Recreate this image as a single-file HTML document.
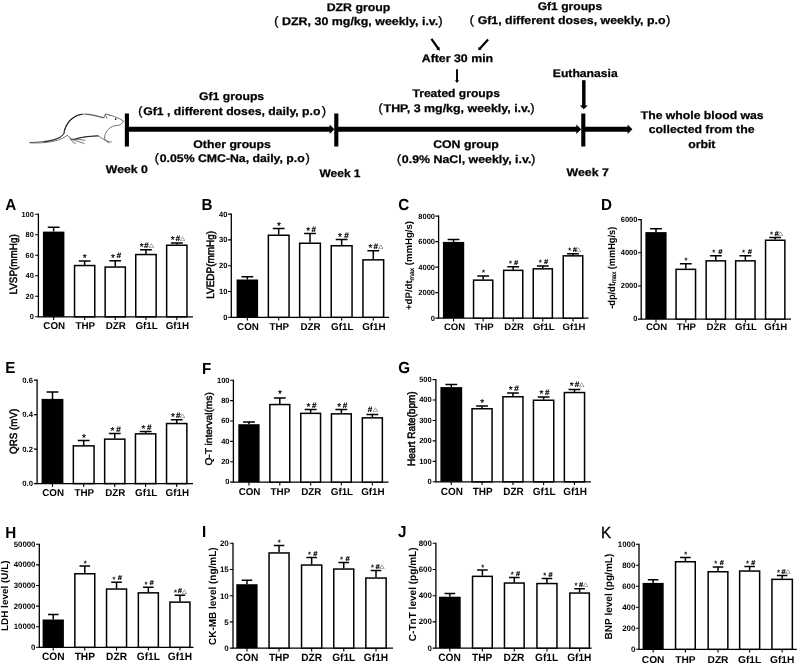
<!DOCTYPE html>
<html><head><meta charset="utf-8"><title>Figure</title>
<style>html,body{margin:0;padding:0;background:#fff}svg{display:block}text{font-family:'Liberation Sans','DejaVu Sans',sans-serif;fill:#000;text-rendering:geometricPrecision}.yl{stroke:#000;stroke-width:0.45px}.t{font-size:12px;font-weight:bold}</style>
</head><body>
<svg width="798" height="664" viewBox="0 0 798 664">
<rect width="798" height="664" fill="#fff"/>
<g font-size="11.1" font-weight="bold" stroke="#000" stroke-width="0.25">
<text transform="translate(326.67 10.8) scale(1.11 1)">DZR group</text>
<text transform="translate(282.06 25.0) scale(1.1196 1)">DZR, 30 mg/kg, weekly, i.v.</text>
<text transform="translate(537.65 10.0) scale(1.0918 1)">Gf1 groups</text>
<text transform="translate(477.64 24.3) scale(1.1136 1)">Gf1, different doses, weekly, p.o</text>
<text transform="translate(421.72 62.0) scale(1.1137 1)">After 30 min</text>
<text transform="translate(412.46 96.6) scale(1.0906 1)">Treated groups</text>
<text transform="translate(383.56 111.6) scale(1.1188 1)">THP, 3 mg/kg, weekly, i.v.</text>
<text transform="translate(552.78 76.7) scale(1.0974 1)">Euthanasia</text>
<text transform="translate(199.05 99.7) scale(1.1004 1)">Gf1 groups</text>
<text transform="translate(143.15 114.6) scale(1.1036 1)">Gf1 , different doses, daily, p.o</text>
<text transform="translate(193.35 148.0) scale(1.1032 1)">Other groups</text>
<text transform="translate(159.75 162.2) scale(1.1059 1)">0.05% CMC-Na, daily, p.o</text>
<text transform="translate(433.14 148.2) scale(1.1107 1)">CON group</text>
<text transform="translate(401.84 162.5) scale(1.1151 1)">0.9% NaCl, weekly, i.v.</text>
<text transform="translate(105.8 173.2) scale(1.1056 1)">Week 0</text>
<text transform="translate(319.5 176.5) scale(1.0781 1)">Week 1</text>
<text transform="translate(566.5 176.1) scale(1.112 1)">Week 7</text>
<text transform="translate(640.76 118.5) scale(1.1009 1)">The whole blood was</text>
<text transform="translate(648.75 133.1) scale(1.1065 1)">collected from the</text>
<text transform="translate(688.15 148.0) scale(1.1042 1)">orbit</text>
</g>
<g font-size="12" stroke="#000" stroke-width="0.35">
<text x="274.29" y="25.0">(</text>
<text x="438.56" y="25.0">)</text>
<text x="469.69" y="24.3">(</text>
<text x="666.21" y="24.3">)</text>
<text x="378.49" y="111.6">(</text>
<text x="530.41" y="111.6">)</text>
<text x="138.19" y="114.6">(</text>
<text x="322.01" y="114.6">)</text>
<text x="154.64" y="162.2">(</text>
<text x="305.71" y="162.2">)</text>
<text x="396.89" y="162.5">(</text>
<text x="531.21" y="162.5">)</text>
</g>
<g stroke="#000" fill="none">
<path d="M126.9 113.6V146.5M336.3 113.4V146.5M583.3 113.5V146.5" stroke-width="4.1"/>
<path d="M128 129.2H331M338 129.2H577.5M585 129.2H628" stroke-width="4.9"/>
<path d="M583.8 80.2V106" stroke-width="3.5"/>
<path d="M431.4 38.8L438.6 49M488.1 39.6L479.5 48.9" stroke-width="2.2"/>
<path d="M457 69.2V81" stroke-width="1.9"/>
</g>
<g fill="#000">
<path d="M334.4 129.2L329.6 124.5V133.9Z"/>
<path d="M581.2 129.2L576.4 124.5V133.9Z"/>
<path d="M632.4 129.2L627.6 124.5V133.9Z"/>
<path d="M583.8 109.3L579.8 105.4H587.8Z"/>
<path d="M457 83L454.9 80.2H459.1Z"/>
<path d="M439.8 50.7L436.2 49.3L439.5 47Z"/>
<path d="M478.2 50.3L478.6 46.8L481.6 49.6Z"/>
</g>
<g id="mouse" fill="none" stroke="#1a1a1a" stroke-width="0.6" stroke-linecap="round" stroke-linejoin="round">
<path d="M29.6 142.5C40 142.2 50 140.8 56 139C61 137.3 63.5 134.5 64.5 132.2"/>
<path d="M30.5 142.9C42 143.3 53 142 59.5 139.6C63.5 138 66 136.3 67.3 135.2"/>
<path d="M44 141.9C50 141.2 56 139.6 60 137.4C62.6 135.8 63.8 134 64.4 132.4" stroke-width="0.95"/>
<path d="M63.8 132.8C65 127 68 120.5 75 116.5C81 113.3 88 113.8 93.5 115C98 116 102 117.2 104 117.6"/>
<path d="M64.3 131C65.8 125.6 69 120 75.2 116.5C77.5 115.3 79.8 114.6 82 114.3" stroke-width="1.15"/>
<path d="M86 114.4C92 114.9 98 116.6 103 118" stroke-width="0.5"/>
<path d="M104 117.6C104.3 116 104.8 114.6 105.5 114.2C106.8 113.8 108.5 114.3 109.5 115.2"/>
<path d="M105.6 114.4C105.8 116 106.2 117.5 106.8 118.4"/>
<path d="M108.5 114.8C113 116 119 118 123.6 121C122.5 123 120.5 124.8 118.8 125.3C116 125.6 114 125.8 112 126.5C108.5 128.5 105.8 132 104.8 135.5C104.3 137.5 104.5 139 105.5 140C106.8 141.2 109 141.8 111.3 142"/>
<path d="M105.8 140.3C106.5 141.5 107.5 142.6 108.8 143"/>
<path d="M67.3 135.4C69 137 71 138.8 73 139.3C78 138.5 84 137 90 136.5C94 136.2 97 135.8 98.5 136C101 137.5 103 139.3 105 140.2"/>
<path d="M76 138.6C81 137.3 87 136.4 92 136.2C94.5 136 96.5 135.8 98 135.9" stroke-width="0.9"/>
<path d="M69.8 138.5C71 140.5 73 142.5 75.5 143.5M71.5 139.5C75 140.5 80 142 84 143.4M73 139.3C77 139.2 81.5 139.6 85 140.4"/>
<circle cx="115.5" cy="119.1" r="0.55" fill="#1a1a1a"/>
</g>

<g><path d="M38.4 213.55V316.8H193" fill="none" stroke="#000" stroke-width="1.3"/>
<path d="M35.15 214.20H38.4M35.15 234.72H38.4M35.15 255.24H38.4M35.15 275.76H38.4M35.15 296.28H38.4M35.15 316.80H38.4" stroke="#000" stroke-width="1.1" fill="none"/>
<text transform="translate(33.80 216.55) scale(1.0 1)" font-size="7.4" text-anchor="end" font-weight="bold">100</text>
<text transform="translate(33.80 237.07) scale(1.0 1)" font-size="7.4" text-anchor="end" font-weight="bold">80</text>
<text transform="translate(33.80 257.59) scale(1.0 1)" font-size="7.4" text-anchor="end" font-weight="bold">60</text>
<text transform="translate(33.80 278.11) scale(1.0 1)" font-size="7.4" text-anchor="end" font-weight="bold">40</text>
<text transform="translate(33.80 298.63) scale(1.0 1)" font-size="7.4" text-anchor="end" font-weight="bold">20</text>
<text transform="translate(33.80 319.15) scale(1.0 1)" font-size="7.4" text-anchor="end" font-weight="bold">0</text>
<path d="M53.65 231.60V227.30M47.75 227.30H59.55" stroke="#000" stroke-width="1.5" fill="none"/>
<rect x="42.90" y="231.60" width="21.50" height="85.20" fill="#000"/>
<text transform="translate(54.25 329.20) scale(0.98 1)" font-size="10.0" text-anchor="middle" font-weight="bold">CON</text>
<path d="M53.65 316.8V320.10" stroke="#000" stroke-width="1.1"/>
<path d="M84.65 264.90V260.90M78.75 260.90H90.55" stroke="#000" stroke-width="1.5" fill="none"/>
<rect x="74.55" y="265.55" width="20.20" height="51.25" fill="#fff" stroke="#000" stroke-width="1.5"/>
<text transform="translate(85.25 329.20) scale(0.98 1)" font-size="10.0" text-anchor="middle" font-weight="bold">THP</text>
<path d="M84.65 316.8V320.10" stroke="#000" stroke-width="1.1"/>
<text x="82.85" y="261.00" font-size="10" stroke="#000" stroke-width="0.2">*</text>
<path d="M115.25 266.40V260.70M109.35 260.70H121.15" stroke="#000" stroke-width="1.5" fill="none"/>
<rect x="105.15" y="267.05" width="20.20" height="49.75" fill="#fff" stroke="#000" stroke-width="1.5"/>
<text transform="translate(115.85 329.20) scale(0.98 1)" font-size="10.0" text-anchor="middle" font-weight="bold">DZR</text>
<path d="M115.25 316.8V320.10" stroke="#000" stroke-width="1.1"/>
<text x="111.05" y="260.80" font-size="10" stroke="#000" stroke-width="0.2">*</text>
<text transform="translate(116.57 258.40) scale(1.04 1)" font-size="7.8" font-weight="bold" stroke="#000" stroke-width="0.2" font-style="italic">#</text>
<path d="M145.95 253.90V249.80M140.05 249.80H151.85" stroke="#000" stroke-width="1.5" fill="none"/>
<rect x="135.75" y="254.55" width="20.40" height="62.25" fill="#fff" stroke="#000" stroke-width="1.5"/>
<text transform="translate(146.55 329.20) scale(0.98 1)" font-size="10.0" text-anchor="middle" font-weight="bold">Gf1L</text>
<path d="M145.95 316.8V320.10" stroke="#000" stroke-width="1.1"/>
<text x="139.65" y="249.90" font-size="10" stroke="#000" stroke-width="0.2">*</text>
<text transform="translate(144.07 247.50) scale(1.04 1)" font-size="7.8" font-weight="bold" stroke="#000" stroke-width="0.2" font-style="italic">#</text>
<text transform="translate(149.10 246.80) scale(1 0.87)" font-size="6.5" font-weight="bold">△</text>
<path d="M176.80 244.60V242.90M170.90 242.90H182.70" stroke="#000" stroke-width="1.5" fill="none"/>
<rect x="166.65" y="245.25" width="20.30" height="71.55" fill="#fff" stroke="#000" stroke-width="1.5"/>
<text transform="translate(177.40 329.20) scale(0.98 1)" font-size="10.0" text-anchor="middle" font-weight="bold">Gf1H</text>
<path d="M176.80 316.8V320.10" stroke="#000" stroke-width="1.1"/>
<text x="170.80" y="243.00" font-size="10" stroke="#000" stroke-width="0.2">*</text>
<text transform="translate(175.42 240.60) scale(1.04 1)" font-size="7.8" font-weight="bold" stroke="#000" stroke-width="0.2" font-style="italic">#</text>
<text transform="translate(179.90 239.90) scale(1 0.87)" font-size="6.5" font-weight="bold">△</text>
<text transform="translate(16.80 264.45) rotate(-90)" font-size="10.6" text-anchor="middle" textLength="60.3" lengthAdjust="spacingAndGlyphs" stroke="#000" stroke-width="0.5">LVSP(mmHg)</text>
<text transform="translate(5.30 209.50) scale(0.95 1)" font-size="16" text-anchor="start" font-weight="bold">A</text></g>
<g><path d="M231.3 213.45V317.3H389.2" fill="none" stroke="#000" stroke-width="1.3"/>
<path d="M228.05 214.10H231.3M228.05 239.90H231.3M228.05 265.70H231.3M228.05 291.50H231.3M228.05 317.30H231.3" stroke="#000" stroke-width="1.1" fill="none"/>
<text transform="translate(227.50 216.51) scale(1.0 1)" font-size="7.6" text-anchor="end" font-weight="bold">40</text>
<text transform="translate(227.50 242.31) scale(1.0 1)" font-size="7.6" text-anchor="end" font-weight="bold">30</text>
<text transform="translate(227.50 268.11) scale(1.0 1)" font-size="7.6" text-anchor="end" font-weight="bold">20</text>
<text transform="translate(227.50 293.91) scale(1.0 1)" font-size="7.6" text-anchor="end" font-weight="bold">10</text>
<text transform="translate(227.50 319.71) scale(1.0 1)" font-size="7.6" text-anchor="end" font-weight="bold">0</text>
<path d="M247.35 279.50V276.80M241.45 276.80H253.25" stroke="#000" stroke-width="1.5" fill="none"/>
<rect x="236.60" y="279.50" width="21.50" height="37.80" fill="#000"/>
<text transform="translate(247.95 329.70) scale(0.98 1)" font-size="10.0" text-anchor="middle" font-weight="bold">CON</text>
<path d="M247.35 317.3V320.60" stroke="#000" stroke-width="1.1"/>
<path d="M278.70 234.60V228.60M272.80 228.60H284.60" stroke="#000" stroke-width="1.5" fill="none"/>
<rect x="268.35" y="235.25" width="20.70" height="82.05" fill="#fff" stroke="#000" stroke-width="1.5"/>
<text transform="translate(279.30 329.70) scale(0.98 1)" font-size="10.0" text-anchor="middle" font-weight="bold">THP</text>
<path d="M278.70 317.3V320.60" stroke="#000" stroke-width="1.1"/>
<text x="276.90" y="229.10" font-size="10" stroke="#000" stroke-width="0.2">*</text>
<path d="M310.00 242.60V233.60M304.10 233.60H315.90" stroke="#000" stroke-width="1.5" fill="none"/>
<rect x="299.65" y="243.25" width="20.70" height="74.05" fill="#fff" stroke="#000" stroke-width="1.5"/>
<text transform="translate(310.60 329.70) scale(0.98 1)" font-size="10.0" text-anchor="middle" font-weight="bold">DZR</text>
<path d="M310.00 317.3V320.60" stroke="#000" stroke-width="1.1"/>
<text x="306.20" y="234.10" font-size="10" stroke="#000" stroke-width="0.2">*</text>
<text transform="translate(311.62 231.70) scale(1.04 1)" font-size="7.8" font-weight="bold" stroke="#000" stroke-width="0.2">#</text>
<path d="M341.65 245.10V239.40M335.75 239.40H347.55" stroke="#000" stroke-width="1.5" fill="none"/>
<rect x="331.25" y="245.75" width="20.80" height="71.55" fill="#fff" stroke="#000" stroke-width="1.5"/>
<text transform="translate(342.25 329.70) scale(0.98 1)" font-size="10.0" text-anchor="middle" font-weight="bold">Gf1L</text>
<path d="M341.65 317.3V320.60" stroke="#000" stroke-width="1.1"/>
<text x="338.05" y="239.90" font-size="10" stroke="#000" stroke-width="0.2">*</text>
<text transform="translate(344.27 237.50) scale(1.04 1)" font-size="7.8" font-weight="bold" stroke="#000" stroke-width="0.2">#</text>
<path d="M373.30 259.20V250.70M367.40 250.70H379.20" stroke="#000" stroke-width="1.5" fill="none"/>
<rect x="362.95" y="259.85" width="20.70" height="57.45" fill="#fff" stroke="#000" stroke-width="1.5"/>
<text transform="translate(373.90 329.70) scale(0.98 1)" font-size="10.0" text-anchor="middle" font-weight="bold">Gf1H</text>
<path d="M373.30 317.3V320.60" stroke="#000" stroke-width="1.1"/>
<text x="368.40" y="251.20" font-size="10" stroke="#000" stroke-width="0.2">*</text>
<text transform="translate(373.62 248.80) scale(1.04 1)" font-size="7.8" font-weight="bold" stroke="#000" stroke-width="0.2">#</text>
<text transform="translate(378.30 248.10) scale(1 0.87)" font-size="6.5" font-weight="bold">△</text>
<text transform="translate(213.90 264.80) rotate(-90)" font-size="10.7" text-anchor="middle" textLength="68.0" lengthAdjust="spacingAndGlyphs" stroke="#000" stroke-width="0.5">LVEDP(mmHg)</text>
<text transform="translate(201.60 209.85) scale(0.95 1)" font-size="16" text-anchor="start" font-weight="bold">B</text></g>
<g><path d="M438.6 215.45V318.1H588.5" fill="none" stroke="#000" stroke-width="1.3"/>
<path d="M435.35 216.10H438.6M435.35 241.60H438.6M435.35 267.10H438.6M435.35 292.60H438.6M435.35 318.10H438.6" stroke="#000" stroke-width="1.1" fill="none"/>
<text transform="translate(435.00 218.88) scale(1.0 1)" font-size="7.5" text-anchor="end" font-weight="bold">8000</text>
<text transform="translate(435.00 244.38) scale(1.0 1)" font-size="7.5" text-anchor="end" font-weight="bold">6000</text>
<text transform="translate(435.00 269.88) scale(1.0 1)" font-size="7.5" text-anchor="end" font-weight="bold">4000</text>
<text transform="translate(435.00 295.38) scale(1.0 1)" font-size="7.5" text-anchor="end" font-weight="bold">2000</text>
<text transform="translate(435.00 320.88) scale(1.0 1)" font-size="7.5" text-anchor="end" font-weight="bold">0</text>
<path d="M453.55 241.90V239.40M447.65 239.40H459.45" stroke="#000" stroke-width="1.5" fill="none"/>
<rect x="442.90" y="241.90" width="21.30" height="76.20" fill="#000"/>
<text transform="translate(454.55 329.80) scale(1.02 1)" font-size="9.4" text-anchor="middle" font-weight="bold">CON</text>
<path d="M453.55 318.1V321.40" stroke="#000" stroke-width="1.1"/>
<path d="M483.15 279.50V276.00M477.25 276.00H489.05" stroke="#000" stroke-width="1.5" fill="none"/>
<rect x="473.55" y="280.15" width="19.20" height="37.95" fill="#fff" stroke="#000" stroke-width="1.5"/>
<text transform="translate(484.15 329.80) scale(1.02 1)" font-size="9.4" text-anchor="middle" font-weight="bold">THP</text>
<path d="M483.15 318.1V321.40" stroke="#000" stroke-width="1.1"/>
<text x="481.90" y="275.40" font-size="7.5" stroke="#000" stroke-width="0.2">*</text>
<path d="M513.20 269.70V266.70M507.30 266.70H519.10" stroke="#000" stroke-width="1.5" fill="none"/>
<rect x="503.65" y="270.35" width="19.10" height="47.75" fill="#fff" stroke="#000" stroke-width="1.5"/>
<text transform="translate(514.20 329.80) scale(1.02 1)" font-size="9.4" text-anchor="middle" font-weight="bold">DZR</text>
<path d="M513.20 318.1V321.40" stroke="#000" stroke-width="1.1"/>
<text x="508.95" y="266.10" font-size="7.5" stroke="#000" stroke-width="0.2">*</text>
<text transform="translate(513.94 264.80) scale(1.04 1)" font-size="7.0" font-weight="bold" stroke="#000" stroke-width="0.2" font-style="italic">#</text>
<path d="M542.80 268.20V265.90M536.90 265.90H548.70" stroke="#000" stroke-width="1.5" fill="none"/>
<rect x="533.25" y="268.85" width="19.10" height="49.25" fill="#fff" stroke="#000" stroke-width="1.5"/>
<text transform="translate(543.80 329.80) scale(1.02 1)" font-size="9.4" text-anchor="middle" font-weight="bold">Gf1L</text>
<path d="M542.80 318.1V321.40" stroke="#000" stroke-width="1.1"/>
<text x="538.85" y="265.30" font-size="7.5" stroke="#000" stroke-width="0.2">*</text>
<text transform="translate(544.04 264.00) scale(1.04 1)" font-size="7.0" font-weight="bold" stroke="#000" stroke-width="0.2" font-style="italic">#</text>
<path d="M573.00 255.20V253.70M567.10 253.70H578.90" stroke="#000" stroke-width="1.5" fill="none"/>
<rect x="563.25" y="255.85" width="19.50" height="62.25" fill="#fff" stroke="#000" stroke-width="1.5"/>
<text transform="translate(574.00 329.80) scale(1.02 1)" font-size="9.4" text-anchor="middle" font-weight="bold">Gf1H</text>
<path d="M573.00 318.1V321.40" stroke="#000" stroke-width="1.1"/>
<text x="568.35" y="253.10" font-size="7.5" stroke="#000" stroke-width="0.2">*</text>
<text transform="translate(572.84 251.80) scale(1.04 1)" font-size="7.0" font-weight="bold" stroke="#000" stroke-width="0.2" font-style="italic">#</text>
<text transform="translate(576.10 251.10) scale(1 0.87)" font-size="6.5" font-weight="bold">△</text>
<text transform="translate(411.80 265.50) rotate(-90)" font-size="9.6" text-anchor="middle" textLength="89.0" lengthAdjust="spacingAndGlyphs" font-weight="bold">+dP/dt<tspan font-size="6.6" dy="1.8" font-weight="normal" stroke="#000" stroke-width="0.2">max</tspan><tspan dy="-1.8"> (mmHg/s)</tspan></text>
<text transform="translate(398.15 209.70) scale(0.95 1)" font-size="16" text-anchor="start" font-weight="bold">C</text></g>
<g><path d="M641.2 218.95V319.1H791" fill="none" stroke="#000" stroke-width="1.3"/>
<path d="M637.95 219.60H641.2M637.95 252.77H641.2M637.95 285.93H641.2M637.95 319.10H641.2" stroke="#000" stroke-width="1.1" fill="none"/>
<text transform="translate(637.40 221.98) scale(1.0 1)" font-size="7.5" text-anchor="end" font-weight="bold">6000</text>
<text transform="translate(637.40 255.15) scale(1.0 1)" font-size="7.5" text-anchor="end" font-weight="bold">4000</text>
<text transform="translate(637.40 288.31) scale(1.0 1)" font-size="7.5" text-anchor="end" font-weight="bold">2000</text>
<text transform="translate(637.40 321.48) scale(1.0 1)" font-size="7.5" text-anchor="end" font-weight="bold">0</text>
<path d="M656.00 232.10V228.80M650.10 228.80H661.90" stroke="#000" stroke-width="1.5" fill="none"/>
<rect x="645.40" y="232.10" width="21.20" height="87.00" fill="#000"/>
<text transform="translate(656.60 330.30) scale(1.0 1)" font-size="9.6" text-anchor="middle" font-weight="bold">CON</text>
<path d="M656.00 319.1V322.40" stroke="#000" stroke-width="1.1"/>
<path d="M685.80 268.70V263.70M679.90 263.70H691.70" stroke="#000" stroke-width="1.5" fill="none"/>
<rect x="676.05" y="269.35" width="19.50" height="49.75" fill="#fff" stroke="#000" stroke-width="1.5"/>
<text transform="translate(686.40 330.30) scale(1.0 1)" font-size="9.6" text-anchor="middle" font-weight="bold">THP</text>
<path d="M685.80 319.1V322.40" stroke="#000" stroke-width="1.1"/>
<text x="684.55" y="263.10" font-size="7.5" stroke="#000" stroke-width="0.2">*</text>
<path d="M715.80 260.20V255.70M709.90 255.70H721.70" stroke="#000" stroke-width="1.5" fill="none"/>
<rect x="706.15" y="260.85" width="19.30" height="58.25" fill="#fff" stroke="#000" stroke-width="1.5"/>
<text transform="translate(716.40 330.30) scale(1.0 1)" font-size="9.6" text-anchor="middle" font-weight="bold">DZR</text>
<path d="M715.80 319.1V322.40" stroke="#000" stroke-width="1.1"/>
<text x="712.35" y="255.10" font-size="7.5" stroke="#000" stroke-width="0.2">*</text>
<text transform="translate(718.34 253.80) scale(1.04 1)" font-size="7.0" font-weight="bold" stroke="#000" stroke-width="0.2" font-style="italic">#</text>
<path d="M745.35 260.20V255.70M739.45 255.70H751.25" stroke="#000" stroke-width="1.5" fill="none"/>
<rect x="735.65" y="260.85" width="19.40" height="58.25" fill="#fff" stroke="#000" stroke-width="1.5"/>
<text transform="translate(745.95 330.30) scale(1.0 1)" font-size="9.6" text-anchor="middle" font-weight="bold">Gf1L</text>
<path d="M745.35 319.1V322.40" stroke="#000" stroke-width="1.1"/>
<text x="741.90" y="255.10" font-size="7.5" stroke="#000" stroke-width="0.2">*</text>
<text transform="translate(747.69 253.80) scale(1.04 1)" font-size="7.0" font-weight="bold" stroke="#000" stroke-width="0.2" font-style="italic">#</text>
<path d="M775.20 239.60V237.60M769.30 237.60H781.10" stroke="#000" stroke-width="1.5" fill="none"/>
<rect x="765.55" y="240.25" width="19.30" height="78.85" fill="#fff" stroke="#000" stroke-width="1.5"/>
<text transform="translate(775.80 330.30) scale(1.0 1)" font-size="9.6" text-anchor="middle" font-weight="bold">Gf1H</text>
<path d="M775.20 319.1V322.40" stroke="#000" stroke-width="1.1"/>
<text x="769.95" y="237.00" font-size="7.5" stroke="#000" stroke-width="0.2">*</text>
<text transform="translate(774.44 235.70) scale(1.04 1)" font-size="7.0" font-weight="bold" stroke="#000" stroke-width="0.2" font-style="italic">#</text>
<text transform="translate(778.00 235.00) scale(1 0.87)" font-size="6.5" font-weight="bold">△</text>
<text transform="translate(614.60 267.80) rotate(-90)" font-size="10.0" text-anchor="middle" textLength="82.0" lengthAdjust="spacingAndGlyphs" font-weight="bold">-dp/dt<tspan font-size="6.6" dy="1.8" font-weight="normal" stroke="#000" stroke-width="0.2">max</tspan><tspan dy="-1.8"> (mmHg/s)</tspan></text>
<text transform="translate(601.10 209.85) scale(0.95 1)" font-size="16" text-anchor="start" font-weight="bold">D</text></g>
<g><path d="M37.1 379.45V483.6H193" fill="none" stroke="#000" stroke-width="1.3"/>
<path d="M33.85 380.10H37.1M33.85 414.60H37.1M33.85 449.10H37.1M33.85 483.60H37.1" stroke="#000" stroke-width="1.1" fill="none"/>
<text transform="translate(33.00 382.55) scale(1.0 1)" font-size="7.7" text-anchor="end" font-weight="bold">0.6</text>
<text transform="translate(33.00 417.05) scale(1.0 1)" font-size="7.7" text-anchor="end" font-weight="bold">0.4</text>
<text transform="translate(33.00 451.55) scale(1.0 1)" font-size="7.7" text-anchor="end" font-weight="bold">0.2</text>
<text transform="translate(33.00 486.05) scale(1.0 1)" font-size="7.7" text-anchor="end" font-weight="bold">0.0</text>
<path d="M52.50 398.90V392.10M46.60 392.10H58.40" stroke="#000" stroke-width="1.5" fill="none"/>
<rect x="41.60" y="398.90" width="21.80" height="84.70" fill="#000"/>
<text transform="translate(53.10 496.00) scale(0.98 1)" font-size="10.0" text-anchor="middle" font-weight="bold">CON</text>
<path d="M52.50 483.6V486.90" stroke="#000" stroke-width="1.1"/>
<path d="M83.70 445.20V440.50M77.80 440.50H89.60" stroke="#000" stroke-width="1.5" fill="none"/>
<rect x="73.35" y="445.85" width="20.70" height="37.75" fill="#fff" stroke="#000" stroke-width="1.5"/>
<text transform="translate(84.30 496.00) scale(0.98 1)" font-size="10.0" text-anchor="middle" font-weight="bold">THP</text>
<path d="M83.70 483.6V486.90" stroke="#000" stroke-width="1.1"/>
<text x="81.90" y="441.00" font-size="10" stroke="#000" stroke-width="0.2">*</text>
<path d="M114.75 438.50V433.50M108.85 433.50H120.65" stroke="#000" stroke-width="1.5" fill="none"/>
<rect x="104.65" y="439.15" width="20.20" height="44.45" fill="#fff" stroke="#000" stroke-width="1.5"/>
<text transform="translate(115.35 496.00) scale(0.98 1)" font-size="10.0" text-anchor="middle" font-weight="bold">DZR</text>
<path d="M114.75 483.6V486.90" stroke="#000" stroke-width="1.1"/>
<text x="110.55" y="434.00" font-size="10" stroke="#000" stroke-width="0.2">*</text>
<text transform="translate(116.17 431.60) scale(1.04 1)" font-size="7.8" font-weight="bold" stroke="#000" stroke-width="0.2">#</text>
<path d="M145.60 433.20V431.50M139.70 431.50H151.50" stroke="#000" stroke-width="1.5" fill="none"/>
<rect x="135.45" y="433.85" width="20.30" height="49.75" fill="#fff" stroke="#000" stroke-width="1.5"/>
<text transform="translate(146.20 496.00) scale(0.98 1)" font-size="10.0" text-anchor="middle" font-weight="bold">Gf1L</text>
<path d="M145.60 483.6V486.90" stroke="#000" stroke-width="1.1"/>
<text x="141.40" y="432.00" font-size="10" stroke="#000" stroke-width="0.2">*</text>
<text transform="translate(147.02 429.60) scale(1.04 1)" font-size="7.8" font-weight="bold" stroke="#000" stroke-width="0.2">#</text>
<path d="M176.70 422.90V419.70M170.80 419.70H182.60" stroke="#000" stroke-width="1.5" fill="none"/>
<rect x="166.55" y="423.55" width="20.30" height="60.05" fill="#fff" stroke="#000" stroke-width="1.5"/>
<text transform="translate(177.30 496.00) scale(0.98 1)" font-size="10.0" text-anchor="middle" font-weight="bold">Gf1H</text>
<path d="M176.70 483.6V486.90" stroke="#000" stroke-width="1.1"/>
<text x="171.10" y="420.20" font-size="10" stroke="#000" stroke-width="0.2">*</text>
<text transform="translate(175.92 417.80) scale(1.04 1)" font-size="7.8" font-weight="bold" stroke="#000" stroke-width="0.2">#</text>
<text transform="translate(180.10 417.10) scale(1 0.87)" font-size="6.5" font-weight="bold">△</text>
<text transform="translate(17.05 431.40) rotate(-90)" font-size="10.4" text-anchor="middle" textLength="45.2" lengthAdjust="spacingAndGlyphs" stroke="#000" stroke-width="0.5">QRS (mV)</text>
<text transform="translate(5.20 373.45) scale(0.95 1)" font-size="16" text-anchor="start" font-weight="bold">E</text></g>
<g><path d="M233.4 379.65V482.1H388.5" fill="none" stroke="#000" stroke-width="1.3"/>
<path d="M230.15 380.30H233.4M230.15 400.66H233.4M230.15 421.02H233.4M230.15 441.38H233.4M230.15 461.74H233.4M230.15 482.10H233.4" stroke="#000" stroke-width="1.1" fill="none"/>
<text transform="translate(229.50 382.68) scale(1.0 1)" font-size="7.5" text-anchor="end" font-weight="bold">100</text>
<text transform="translate(229.50 403.04) scale(1.0 1)" font-size="7.5" text-anchor="end" font-weight="bold">80</text>
<text transform="translate(229.50 423.40) scale(1.0 1)" font-size="7.5" text-anchor="end" font-weight="bold">60</text>
<text transform="translate(229.50 443.76) scale(1.0 1)" font-size="7.5" text-anchor="end" font-weight="bold">40</text>
<text transform="translate(229.50 464.12) scale(1.0 1)" font-size="7.5" text-anchor="end" font-weight="bold">20</text>
<text transform="translate(229.50 484.48) scale(1.0 1)" font-size="7.5" text-anchor="end" font-weight="bold">0</text>
<path d="M248.95 424.20V421.90M243.05 421.90H254.85" stroke="#000" stroke-width="1.5" fill="none"/>
<rect x="238.30" y="424.20" width="21.30" height="57.90" fill="#000"/>
<text transform="translate(249.55 494.50) scale(0.98 1)" font-size="10.0" text-anchor="middle" font-weight="bold">CON</text>
<path d="M248.95 482.1V485.40" stroke="#000" stroke-width="1.1"/>
<path d="M279.80 403.90V398.10M273.90 398.10H285.70" stroke="#000" stroke-width="1.5" fill="none"/>
<rect x="269.85" y="404.55" width="19.90" height="77.55" fill="#fff" stroke="#000" stroke-width="1.5"/>
<text transform="translate(280.40 494.50) scale(0.98 1)" font-size="10.0" text-anchor="middle" font-weight="bold">THP</text>
<path d="M279.80 482.1V485.40" stroke="#000" stroke-width="1.1"/>
<text x="278.00" y="397.20" font-size="10" stroke="#000" stroke-width="0.2">*</text>
<path d="M310.65 412.70V409.40M304.75 409.40H316.55" stroke="#000" stroke-width="1.5" fill="none"/>
<rect x="300.75" y="413.35" width="19.80" height="68.75" fill="#fff" stroke="#000" stroke-width="1.5"/>
<text transform="translate(311.25 494.50) scale(0.98 1)" font-size="10.0" text-anchor="middle" font-weight="bold">DZR</text>
<path d="M310.65 482.1V485.40" stroke="#000" stroke-width="1.1"/>
<text x="306.45" y="409.90" font-size="10" stroke="#000" stroke-width="0.2">*</text>
<text transform="translate(312.07 407.50) scale(1.04 1)" font-size="7.8" font-weight="bold" stroke="#000" stroke-width="0.2">#</text>
<path d="M341.35 413.20V409.40M335.45 409.40H347.25" stroke="#000" stroke-width="1.5" fill="none"/>
<rect x="331.45" y="413.85" width="19.80" height="68.25" fill="#fff" stroke="#000" stroke-width="1.5"/>
<text transform="translate(341.95 494.50) scale(0.98 1)" font-size="10.0" text-anchor="middle" font-weight="bold">Gf1L</text>
<path d="M341.35 482.1V485.40" stroke="#000" stroke-width="1.1"/>
<text x="337.15" y="409.90" font-size="10" stroke="#000" stroke-width="0.2">*</text>
<text transform="translate(342.77 407.50) scale(1.04 1)" font-size="7.8" font-weight="bold" stroke="#000" stroke-width="0.2">#</text>
<path d="M372.35 417.20V414.40M366.45 414.40H378.25" stroke="#000" stroke-width="1.5" fill="none"/>
<rect x="362.35" y="417.85" width="20.00" height="64.25" fill="#fff" stroke="#000" stroke-width="1.5"/>
<text transform="translate(372.95 494.50) scale(0.98 1)" font-size="10.0" text-anchor="middle" font-weight="bold">Gf1H</text>
<path d="M372.35 482.1V485.40" stroke="#000" stroke-width="1.1"/>
<text transform="translate(367.77 411.70) scale(1.04 1)" font-size="7.8" font-weight="bold" stroke="#000" stroke-width="0.2">#</text>
<text transform="translate(373.05 411.00) scale(1 0.87)" font-size="6.5" font-weight="bold">△</text>
<text transform="translate(211.90 428.90) rotate(-90)" font-size="9.8" text-anchor="middle" textLength="73.4" lengthAdjust="spacingAndGlyphs" stroke="#000" stroke-width="0.4">Q-T interval(ms)</text>
<text transform="translate(201.90 373.60) scale(0.95 1)" font-size="16" text-anchor="start" font-weight="bold">F</text></g>
<g><path d="M435.9 378.95V481.8H591" fill="none" stroke="#000" stroke-width="1.3"/>
<path d="M432.65 379.60H435.9M432.65 400.04H435.9M432.65 420.48H435.9M432.65 440.92H435.9M432.65 461.36H435.9M432.65 481.80H435.9" stroke="#000" stroke-width="1.1" fill="none"/>
<text transform="translate(431.70 381.98) scale(1.0 1)" font-size="7.5" text-anchor="end" font-weight="bold">500</text>
<text transform="translate(431.70 402.42) scale(1.0 1)" font-size="7.5" text-anchor="end" font-weight="bold">400</text>
<text transform="translate(431.70 422.86) scale(1.0 1)" font-size="7.5" text-anchor="end" font-weight="bold">300</text>
<text transform="translate(431.70 443.30) scale(1.0 1)" font-size="7.5" text-anchor="end" font-weight="bold">200</text>
<text transform="translate(431.70 463.74) scale(1.0 1)" font-size="7.5" text-anchor="end" font-weight="bold">100</text>
<text transform="translate(431.70 484.18) scale(1.0 1)" font-size="7.5" text-anchor="end" font-weight="bold">0</text>
<path d="M451.30 387.10V384.60M445.40 384.60H457.20" stroke="#000" stroke-width="1.5" fill="none"/>
<rect x="440.40" y="387.10" width="21.80" height="94.70" fill="#000"/>
<text transform="translate(451.90 494.70) scale(0.96 1)" font-size="10.4" text-anchor="middle" font-weight="bold">CON</text>
<path d="M451.30 481.8V485.10" stroke="#000" stroke-width="1.1"/>
<path d="M482.05 408.10V405.90M476.15 405.90H487.95" stroke="#000" stroke-width="1.5" fill="none"/>
<rect x="472.05" y="408.75" width="20.00" height="73.05" fill="#fff" stroke="#000" stroke-width="1.5"/>
<text transform="translate(482.65 494.70) scale(0.96 1)" font-size="10.4" text-anchor="middle" font-weight="bold">THP</text>
<path d="M482.05 481.8V485.10" stroke="#000" stroke-width="1.1"/>
<text x="480.25" y="405.70" font-size="10" stroke="#000" stroke-width="0.2">*</text>
<path d="M512.95 396.10V393.10M507.05 393.10H518.85" stroke="#000" stroke-width="1.5" fill="none"/>
<rect x="502.95" y="396.75" width="20.00" height="85.05" fill="#fff" stroke="#000" stroke-width="1.5"/>
<text transform="translate(513.55 494.70) scale(0.96 1)" font-size="10.4" text-anchor="middle" font-weight="bold">DZR</text>
<path d="M512.95 481.8V485.10" stroke="#000" stroke-width="1.1"/>
<text x="508.75" y="392.90" font-size="10" stroke="#000" stroke-width="0.2">*</text>
<text transform="translate(514.37 390.50) scale(1.04 1)" font-size="7.8" font-weight="bold" stroke="#000" stroke-width="0.2">#</text>
<path d="M543.60 399.60V397.10M537.70 397.10H549.50" stroke="#000" stroke-width="1.5" fill="none"/>
<rect x="533.45" y="400.25" width="20.30" height="81.55" fill="#fff" stroke="#000" stroke-width="1.5"/>
<text transform="translate(544.20 494.70) scale(0.96 1)" font-size="10.4" text-anchor="middle" font-weight="bold">Gf1L</text>
<path d="M543.60 481.8V485.10" stroke="#000" stroke-width="1.1"/>
<text x="539.40" y="396.90" font-size="10" stroke="#000" stroke-width="0.2">*</text>
<text transform="translate(545.02 394.50) scale(1.04 1)" font-size="7.8" font-weight="bold" stroke="#000" stroke-width="0.2">#</text>
<path d="M574.45 391.90V389.60M568.55 389.60H580.35" stroke="#000" stroke-width="1.5" fill="none"/>
<rect x="564.35" y="392.55" width="20.20" height="89.25" fill="#fff" stroke="#000" stroke-width="1.5"/>
<text transform="translate(575.05 494.70) scale(0.96 1)" font-size="10.4" text-anchor="middle" font-weight="bold">Gf1H</text>
<path d="M574.45 481.8V485.10" stroke="#000" stroke-width="1.1"/>
<text x="569.85" y="389.40" font-size="10" stroke="#000" stroke-width="0.2">*</text>
<text transform="translate(574.67 387.00) scale(1.04 1)" font-size="7.8" font-weight="bold" stroke="#000" stroke-width="0.2">#</text>
<text transform="translate(579.25 386.30) scale(1 0.87)" font-size="6.5" font-weight="bold">△</text>
<text transform="translate(414.80 428.65) rotate(-90)" font-size="10.7" text-anchor="middle" textLength="74.7" lengthAdjust="spacingAndGlyphs" stroke="#000" stroke-width="0.5">Heart Rate(bpm)</text>
<text transform="translate(398.35 373.45) scale(0.95 1)" font-size="16" text-anchor="start" font-weight="bold">G</text></g>
<g><path d="M39.3 543.65V647.3H193.5" fill="none" stroke="#000" stroke-width="1.3"/>
<path d="M36.05 544.30H39.3M36.05 564.90H39.3M36.05 585.50H39.3M36.05 606.10H39.3M36.05 626.70H39.3M36.05 647.30H39.3" stroke="#000" stroke-width="1.1" fill="none"/>
<text transform="translate(35.40 546.78) scale(1.0 1)" font-size="7.8" text-anchor="end" font-weight="bold">50000</text>
<text transform="translate(35.40 567.38) scale(1.0 1)" font-size="7.8" text-anchor="end" font-weight="bold">40000</text>
<text transform="translate(35.40 587.98) scale(1.0 1)" font-size="7.8" text-anchor="end" font-weight="bold">30000</text>
<text transform="translate(35.40 608.58) scale(1.0 1)" font-size="7.8" text-anchor="end" font-weight="bold">20000</text>
<text transform="translate(35.40 629.18) scale(1.0 1)" font-size="7.8" text-anchor="end" font-weight="bold">10000</text>
<text transform="translate(35.40 649.78) scale(1.0 1)" font-size="7.8" text-anchor="end" font-weight="bold">0</text>
<path d="M53.25 619.50V614.50M47.95 614.50H58.55" stroke="#000" stroke-width="1.5" fill="none"/>
<rect x="42.60" y="619.50" width="21.30" height="27.80" fill="#000"/>
<text transform="translate(53.25 660.10) scale(0.96 1)" font-size="10.6" text-anchor="middle" font-weight="bold">CON</text>
<path d="M53.25 647.3V650.60" stroke="#000" stroke-width="1.1"/>
<path d="M84.80 573.10V566.10M79.50 566.10H90.10" stroke="#000" stroke-width="1.5" fill="none"/>
<rect x="74.85" y="573.75" width="19.90" height="73.55" fill="#fff" stroke="#000" stroke-width="1.5"/>
<text transform="translate(84.80 660.10) scale(0.96 1)" font-size="10.6" text-anchor="middle" font-weight="bold">THP</text>
<path d="M84.80 647.3V650.60" stroke="#000" stroke-width="1.1"/>
<text x="83.85" y="565.50" font-size="7.5" stroke="#000" stroke-width="0.2">*</text>
<path d="M116.55 588.40V582.20M111.25 582.20H121.85" stroke="#000" stroke-width="1.5" fill="none"/>
<rect x="106.55" y="589.05" width="20.00" height="58.25" fill="#fff" stroke="#000" stroke-width="1.5"/>
<text transform="translate(116.55 660.10) scale(0.96 1)" font-size="10.6" text-anchor="middle" font-weight="bold">DZR</text>
<path d="M116.55 647.3V650.60" stroke="#000" stroke-width="1.1"/>
<text x="112.60" y="581.60" font-size="7.5" stroke="#000" stroke-width="0.2">*</text>
<text transform="translate(117.69 580.30) scale(1.04 1)" font-size="7.0" font-weight="bold" stroke="#000" stroke-width="0.2" font-style="italic">#</text>
<path d="M148.35 592.20V587.20M143.05 587.20H153.65" stroke="#000" stroke-width="1.5" fill="none"/>
<rect x="138.35" y="592.85" width="20.00" height="54.45" fill="#fff" stroke="#000" stroke-width="1.5"/>
<text transform="translate(148.35 660.10) scale(0.96 1)" font-size="10.6" text-anchor="middle" font-weight="bold">Gf1L</text>
<path d="M148.35 647.3V650.60" stroke="#000" stroke-width="1.1"/>
<text x="144.40" y="586.60" font-size="7.5" stroke="#000" stroke-width="0.2">*</text>
<text transform="translate(149.49 585.30) scale(1.04 1)" font-size="7.0" font-weight="bold" stroke="#000" stroke-width="0.2" font-style="italic">#</text>
<path d="M179.95 601.50V595.20M174.65 595.20H185.25" stroke="#000" stroke-width="1.5" fill="none"/>
<rect x="169.95" y="602.15" width="20.00" height="45.15" fill="#fff" stroke="#000" stroke-width="1.5"/>
<text transform="translate(179.95 660.10) scale(0.96 1)" font-size="10.6" text-anchor="middle" font-weight="bold">Gf1H</text>
<path d="M179.95 647.3V650.60" stroke="#000" stroke-width="1.1"/>
<text x="173.90" y="594.60" font-size="7.5" stroke="#000" stroke-width="0.2">*</text>
<text transform="translate(177.79 593.30) scale(1.04 1)" font-size="7.0" font-weight="bold" stroke="#000" stroke-width="0.2" font-style="italic">#</text>
<text transform="translate(182.05 592.60) scale(1 0.87)" font-size="6.5" font-weight="bold">△</text>
<text transform="translate(8.00 595.75) rotate(-90)" font-size="9.8" text-anchor="middle" textLength="70.5" lengthAdjust="spacingAndGlyphs" font-weight="bold">LDH level (U/L)</text>
<text transform="translate(5.20 537.50) scale(0.95 1)" font-size="16" text-anchor="start" font-weight="bold">H</text></g>
<g><path d="M233.0 542.65V648.1H393" fill="none" stroke="#000" stroke-width="1.3"/>
<path d="M229.75 543.30H233.0M229.75 569.50H233.0M229.75 595.70H233.0M229.75 621.90H233.0M229.75 648.10H233.0" stroke="#000" stroke-width="1.1" fill="none"/>
<text transform="translate(228.70 546.22) scale(1.0 1)" font-size="7.9" text-anchor="end" font-weight="bold">20</text>
<text transform="translate(228.70 572.42) scale(1.0 1)" font-size="7.9" text-anchor="end" font-weight="bold">15</text>
<text transform="translate(228.70 598.62) scale(1.0 1)" font-size="7.9" text-anchor="end" font-weight="bold">10</text>
<text transform="translate(228.70 624.82) scale(1.0 1)" font-size="7.9" text-anchor="end" font-weight="bold">5</text>
<text transform="translate(228.70 651.02) scale(1.0 1)" font-size="7.9" text-anchor="end" font-weight="bold">0</text>
<path d="M246.95 584.20V580.20M241.65 580.20H252.25" stroke="#000" stroke-width="1.5" fill="none"/>
<rect x="236.30" y="584.20" width="21.30" height="63.90" fill="#000"/>
<text transform="translate(246.95 660.90) scale(0.96 1)" font-size="10.6" text-anchor="middle" font-weight="bold">CON</text>
<path d="M246.95 648.1V651.40" stroke="#000" stroke-width="1.1"/>
<path d="M279.05 552.30V545.60M273.75 545.60H284.35" stroke="#000" stroke-width="1.5" fill="none"/>
<rect x="269.05" y="552.95" width="20.00" height="95.15" fill="#fff" stroke="#000" stroke-width="1.5"/>
<text transform="translate(279.05 660.90) scale(0.96 1)" font-size="10.6" text-anchor="middle" font-weight="bold">THP</text>
<path d="M279.05 648.1V651.40" stroke="#000" stroke-width="1.1"/>
<text x="277.80" y="545.00" font-size="7.5" stroke="#000" stroke-width="0.2">*</text>
<path d="M311.65 564.40V557.40M306.35 557.40H316.95" stroke="#000" stroke-width="1.5" fill="none"/>
<rect x="301.55" y="565.05" width="20.20" height="83.05" fill="#fff" stroke="#000" stroke-width="1.5"/>
<text transform="translate(311.65 660.90) scale(0.96 1)" font-size="10.6" text-anchor="middle" font-weight="bold">DZR</text>
<path d="M311.65 648.1V651.40" stroke="#000" stroke-width="1.1"/>
<text x="308.00" y="556.80" font-size="7.5" stroke="#000" stroke-width="0.2">*</text>
<text transform="translate(313.29 555.50) scale(1.04 1)" font-size="7.0" font-weight="bold" stroke="#000" stroke-width="0.2" font-style="italic">#</text>
<path d="M343.75 568.40V562.40M338.45 562.40H349.05" stroke="#000" stroke-width="1.5" fill="none"/>
<rect x="333.75" y="569.05" width="20.00" height="79.05" fill="#fff" stroke="#000" stroke-width="1.5"/>
<text transform="translate(343.75 660.90) scale(0.96 1)" font-size="10.6" text-anchor="middle" font-weight="bold">Gf1L</text>
<path d="M343.75 648.1V651.40" stroke="#000" stroke-width="1.1"/>
<text x="340.10" y="561.80" font-size="7.5" stroke="#000" stroke-width="0.2">*</text>
<text transform="translate(345.39 560.50) scale(1.04 1)" font-size="7.0" font-weight="bold" stroke="#000" stroke-width="0.2" font-style="italic">#</text>
<path d="M376.00 577.40V570.40M370.70 570.40H381.30" stroke="#000" stroke-width="1.5" fill="none"/>
<rect x="365.85" y="578.05" width="20.30" height="70.05" fill="#fff" stroke="#000" stroke-width="1.5"/>
<text transform="translate(376.00 660.90) scale(0.96 1)" font-size="10.6" text-anchor="middle" font-weight="bold">Gf1H</text>
<path d="M376.00 648.1V651.40" stroke="#000" stroke-width="1.1"/>
<text x="370.95" y="569.80" font-size="7.5" stroke="#000" stroke-width="0.2">*</text>
<text transform="translate(375.44 568.50) scale(1.04 1)" font-size="7.0" font-weight="bold" stroke="#000" stroke-width="0.2" font-style="italic">#</text>
<text transform="translate(379.40 567.80) scale(1 0.87)" font-size="6.5" font-weight="bold">△</text>
<text transform="translate(215.70 596.20) rotate(-90)" font-size="10.25" text-anchor="middle" textLength="97.6" lengthAdjust="spacingAndGlyphs" font-weight="bold">CK-MB level (ng/mL)</text>
<text transform="translate(201.90 537.20) scale(0.95 1)" font-size="16" text-anchor="start" font-weight="bold">I</text></g>
<g><path d="M435.9 542.65V648.1H591.7" fill="none" stroke="#000" stroke-width="1.3"/>
<path d="M432.65 543.30H435.9M432.65 569.50H435.9M432.65 595.70H435.9M432.65 621.90H435.9M432.65 648.10H435.9" stroke="#000" stroke-width="1.1" fill="none"/>
<text transform="translate(431.80 545.82) scale(1.0 1)" font-size="7.9" text-anchor="end" font-weight="bold">800</text>
<text transform="translate(431.80 572.02) scale(1.0 1)" font-size="7.9" text-anchor="end" font-weight="bold">600</text>
<text transform="translate(431.80 598.22) scale(1.0 1)" font-size="7.9" text-anchor="end" font-weight="bold">400</text>
<text transform="translate(431.80 624.42) scale(1.0 1)" font-size="7.9" text-anchor="end" font-weight="bold">200</text>
<text transform="translate(431.80 650.62) scale(1.0 1)" font-size="7.9" text-anchor="end" font-weight="bold">0</text>
<path d="M449.85 596.70V593.40M444.55 593.40H455.15" stroke="#000" stroke-width="1.5" fill="none"/>
<rect x="439.00" y="596.70" width="21.70" height="51.40" fill="#000"/>
<text transform="translate(449.55 661.40) scale(0.96 1)" font-size="10.6" text-anchor="middle" font-weight="bold">CON</text>
<path d="M449.85 648.1V651.40" stroke="#000" stroke-width="1.1"/>
<path d="M482.40 575.70V570.10M477.10 570.10H487.70" stroke="#000" stroke-width="1.5" fill="none"/>
<rect x="472.55" y="576.35" width="19.70" height="71.75" fill="#fff" stroke="#000" stroke-width="1.5"/>
<text transform="translate(482.10 661.40) scale(0.96 1)" font-size="10.6" text-anchor="middle" font-weight="bold">THP</text>
<path d="M482.40 648.1V651.40" stroke="#000" stroke-width="1.1"/>
<text x="481.15" y="569.50" font-size="7.5" stroke="#000" stroke-width="0.2">*</text>
<path d="M514.30 582.40V577.40M509.00 577.40H519.60" stroke="#000" stroke-width="1.5" fill="none"/>
<rect x="504.45" y="583.05" width="19.70" height="65.05" fill="#fff" stroke="#000" stroke-width="1.5"/>
<text transform="translate(514.00 661.40) scale(0.96 1)" font-size="10.6" text-anchor="middle" font-weight="bold">DZR</text>
<path d="M514.30 648.1V651.40" stroke="#000" stroke-width="1.1"/>
<text x="510.65" y="576.80" font-size="7.5" stroke="#000" stroke-width="0.2">*</text>
<text transform="translate(515.94 575.50) scale(1.04 1)" font-size="7.0" font-weight="bold" stroke="#000" stroke-width="0.2">#</text>
<path d="M546.95 582.90V578.40M541.65 578.40H552.25" stroke="#000" stroke-width="1.5" fill="none"/>
<rect x="536.95" y="583.55" width="20.00" height="64.55" fill="#fff" stroke="#000" stroke-width="1.5"/>
<text transform="translate(546.65 661.40) scale(0.96 1)" font-size="10.6" text-anchor="middle" font-weight="bold">Gf1L</text>
<path d="M546.95 648.1V651.40" stroke="#000" stroke-width="1.1"/>
<text x="543.30" y="577.80" font-size="7.5" stroke="#000" stroke-width="0.2">*</text>
<text transform="translate(548.59 576.50) scale(1.04 1)" font-size="7.0" font-weight="bold" stroke="#000" stroke-width="0.2">#</text>
<path d="M579.60 592.40V588.70M574.30 588.70H584.90" stroke="#000" stroke-width="1.5" fill="none"/>
<rect x="569.85" y="593.05" width="19.50" height="55.05" fill="#fff" stroke="#000" stroke-width="1.5"/>
<text transform="translate(579.30 661.40) scale(0.96 1)" font-size="10.6" text-anchor="middle" font-weight="bold">Gf1H</text>
<path d="M579.60 648.1V651.40" stroke="#000" stroke-width="1.1"/>
<text x="574.55" y="588.10" font-size="7.5" stroke="#000" stroke-width="0.2">*</text>
<text transform="translate(579.04 586.80) scale(1.04 1)" font-size="7.0" font-weight="bold" stroke="#000" stroke-width="0.2">#</text>
<text transform="translate(583.00 586.10) scale(1 0.87)" font-size="6.5" font-weight="bold">△</text>
<text transform="translate(415.65 594.30) rotate(-90)" font-size="10.2" text-anchor="middle" textLength="93.8" lengthAdjust="spacingAndGlyphs" font-weight="bold">C-TnT level (pg/mL)</text>
<text transform="translate(398.10 537.40) scale(0.95 1)" font-size="16" text-anchor="start" font-weight="bold">J</text></g>
<g><path d="M639.0 543.65V649.3H796.8" fill="none" stroke="#000" stroke-width="1.3"/>
<path d="M635.75 544.30H639.0M635.75 565.30H639.0M635.75 586.30H639.0M635.75 607.30H639.0M635.75 628.30H639.0M635.75 649.30H639.0" stroke="#000" stroke-width="1.1" fill="none"/>
<text transform="translate(635.30 546.82) scale(1.0 1)" font-size="7.9" text-anchor="end" font-weight="bold">1000</text>
<text transform="translate(635.30 567.82) scale(1.0 1)" font-size="7.9" text-anchor="end" font-weight="bold">800</text>
<text transform="translate(635.30 588.82) scale(1.0 1)" font-size="7.9" text-anchor="end" font-weight="bold">600</text>
<text transform="translate(635.30 609.82) scale(1.0 1)" font-size="7.9" text-anchor="end" font-weight="bold">400</text>
<text transform="translate(635.30 630.82) scale(1.0 1)" font-size="7.9" text-anchor="end" font-weight="bold">200</text>
<text transform="translate(635.30 651.82) scale(1.0 1)" font-size="7.9" text-anchor="end" font-weight="bold">0</text>
<path d="M653.15 582.90V579.70M647.85 579.70H658.45" stroke="#000" stroke-width="1.5" fill="none"/>
<rect x="642.60" y="582.90" width="21.10" height="66.40" fill="#000"/>
<text transform="translate(653.15 662.60) scale(1.02 1)" font-size="10.0" text-anchor="middle" font-weight="bold">CON</text>
<path d="M653.15 649.3V652.60" stroke="#000" stroke-width="1.1"/>
<path d="M685.40 561.10V557.40M680.10 557.40H690.70" stroke="#000" stroke-width="1.5" fill="none"/>
<rect x="675.55" y="561.75" width="19.70" height="87.55" fill="#fff" stroke="#000" stroke-width="1.5"/>
<text transform="translate(685.40 662.60) scale(1.02 1)" font-size="10.0" text-anchor="middle" font-weight="bold">THP</text>
<path d="M685.40 649.3V652.60" stroke="#000" stroke-width="1.1"/>
<text x="684.15" y="556.80" font-size="7.5" stroke="#000" stroke-width="0.2">*</text>
<path d="M718.00 571.10V566.90M712.70 566.90H723.30" stroke="#000" stroke-width="1.5" fill="none"/>
<rect x="708.15" y="571.75" width="19.70" height="77.55" fill="#fff" stroke="#000" stroke-width="1.5"/>
<text transform="translate(718.00 662.60) scale(1.02 1)" font-size="10.0" text-anchor="middle" font-weight="bold">DZR</text>
<path d="M718.00 649.3V652.60" stroke="#000" stroke-width="1.1"/>
<text x="714.35" y="566.30" font-size="7.5" stroke="#000" stroke-width="0.2">*</text>
<text transform="translate(719.64 565.00) scale(1.04 1)" font-size="7.0" font-weight="bold" stroke="#000" stroke-width="0.2">#</text>
<path d="M749.65 570.40V566.60M744.35 566.60H754.95" stroke="#000" stroke-width="1.5" fill="none"/>
<rect x="739.65" y="571.05" width="20.00" height="78.25" fill="#fff" stroke="#000" stroke-width="1.5"/>
<text transform="translate(749.65 662.60) scale(1.02 1)" font-size="10.0" text-anchor="middle" font-weight="bold">Gf1L</text>
<path d="M749.65 649.3V652.60" stroke="#000" stroke-width="1.1"/>
<text x="746.00" y="566.00" font-size="7.5" stroke="#000" stroke-width="0.2">*</text>
<text transform="translate(751.29 564.70) scale(1.04 1)" font-size="7.0" font-weight="bold" stroke="#000" stroke-width="0.2">#</text>
<path d="M782.15 578.70V575.40M776.85 575.40H787.45" stroke="#000" stroke-width="1.5" fill="none"/>
<rect x="771.95" y="579.35" width="20.40" height="69.95" fill="#fff" stroke="#000" stroke-width="1.5"/>
<text transform="translate(782.15 662.60) scale(1.02 1)" font-size="10.0" text-anchor="middle" font-weight="bold">Gf1H</text>
<path d="M782.15 649.3V652.60" stroke="#000" stroke-width="1.1"/>
<text x="777.10" y="574.80" font-size="7.5" stroke="#000" stroke-width="0.2">*</text>
<text transform="translate(781.59 573.50) scale(1.04 1)" font-size="7.0" font-weight="bold" stroke="#000" stroke-width="0.2">#</text>
<text transform="translate(785.55 572.80) scale(1 0.87)" font-size="6.5" font-weight="bold">△</text>
<text transform="translate(611.65 596.55) rotate(-90)" font-size="10.2" text-anchor="middle" textLength="85.7" lengthAdjust="spacingAndGlyphs" font-weight="bold">BNP level (pg/mL)</text>
<text transform="translate(601.10 537.50) scale(0.95 1)" font-size="16" text-anchor="start" stroke="#000" stroke-width="0.35">K</text></g>
</svg></body></html>
